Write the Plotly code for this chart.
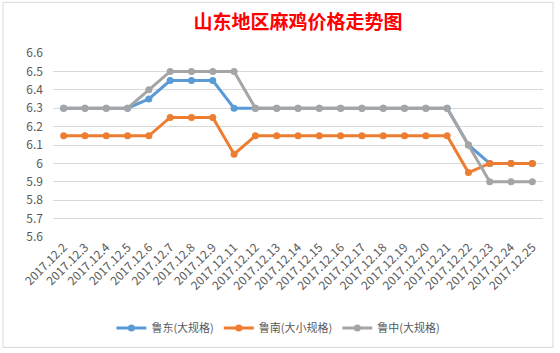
import plotly.graph_objects as go

categories = ["2017.12.2", "2017.12.3", "2017.12.4", "2017.12.5", "2017.12.6", "2017.12.7",
              "2017.12.8", "2017.12.9", "2017.12.11", "2017.12.12", "2017.12.13", "2017.12.14",
              "2017.12.15", "2017.12.16", "2017.12.17", "2017.12.18", "2017.12.19", "2017.12.20",
              "2017.12.21", "2017.12.22", "2017.12.23", "2017.12.24", "2017.12.25"]

ludong = [6.3, 6.3, 6.3, 6.3, 6.35, 6.45, 6.45, 6.45, 6.3, 6.3, 6.3, 6.3,
          6.3, 6.3, 6.3, 6.3, 6.3, 6.3, 6.3, 6.1, 6.0, 6.0, 6.0]
lunan = [6.15, 6.15, 6.15, 6.15, 6.15, 6.25, 6.25, 6.25, 6.05, 6.15, 6.15, 6.15,
         6.15, 6.15, 6.15, 6.15, 6.15, 6.15, 6.15, 5.95, 6.0, 6.0, 6.0]
luzhong = [6.3, 6.3, 6.3, 6.3, 6.4, 6.5, 6.5, 6.5, 6.5, 6.3, 6.3, 6.3,
           6.3, 6.3, 6.3, 6.3, 6.3, 6.3, 6.3, 6.1, 5.9, 5.9, 5.9]

series_names = ["鲁东(大规格)", "鲁南(大小规格)", "鲁中(大规格)"]
series_colors = ["#5B9BD5", "#ED7D31", "#A5A5A5"]

y_tickvals = [5.6, 5.7, 5.8, 5.9, 6.0, 6.1, 6.2, 6.3, 6.4, 6.5, 6.6]
y_ticktext = ["5.6", "5.7", "5.8", "5.9", "6", "6.1", "6.2", "6.3", "6.4", "6.5", "6.6"]

title_text = "山东地区麻鸡价格走势图"

fig = go.Figure()
for name, vals, col in zip(series_names, [ludong, lunan, luzhong], series_colors):
    fig.add_trace(go.Scatter(
        x=list(range(len(categories))), y=vals, name=name, mode="lines+markers",
        line=dict(color=col, width=3),
        marker=dict(color=col, size=7),
    ))

W, H = 560, 353
ml, mr, mt, mb = 53, 17, 53, 115
pw, ph = W - ml - mr, H - mt - mb

def px_x(px):
    return (px - ml) / pw

def px_y(py):
    return (H - mb - py) / ph

fig.update_layout(
    width=W, height=H,
    margin=dict(l=ml, r=mr, t=mt, b=mb, pad=0),
    paper_bgcolor="white", plot_bgcolor="white",
    font=dict(family="Noto Sans CJK SC, Noto Sans", color="#595959", size=12),
    title=dict(text="<b>" + title_text + "</b>", x=0.5, xref="paper", xanchor="center",
               y=1 - 22 / H, yref="container", yanchor="middle",
               font=dict(family="Noto Sans CJK SC", size=19, color="#FF0000")),
    showlegend=True,
    legend=dict(orientation="h", x=0.46, xanchor="center", y=px_y(328), yanchor="middle",
                font=dict(size=11, color="#595959"), itemwidth=30, bgcolor="rgba(0,0,0,0)",
                tracegroupgap=0),
    xaxis=dict(
        range=[-0.5, len(categories) - 0.5],
        tickmode="array", tickvals=list(range(len(categories))), ticktext=categories,
        tickangle=-45, showgrid=False, zeroline=False, showline=False,
        ticks="", tickfont=dict(size=12, color="#595959"),
    ),
    yaxis=dict(
        range=[5.6, 6.6], tickmode="array", tickvals=y_tickvals, ticktext=y_ticktext,
        showgrid=True, gridcolor="#D9D9D9", gridwidth=1, zeroline=False, showline=False,
        ticks="", ticklabelstandoff=9, tickfont=dict(size=12, color="#595959"),
    ),
    shapes=[dict(type="rect", xref="paper", yref="paper",
                 x0=px_x(3), x1=px_x(553), y0=px_y(349), y1=px_y(2),
                 line=dict(color="#D9D9D9", width=1), layer="below")],
)

fig.write_html("out.html")
